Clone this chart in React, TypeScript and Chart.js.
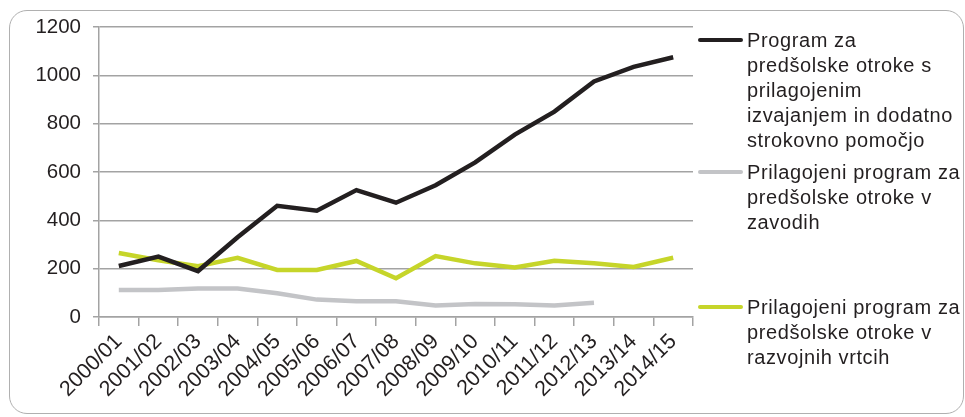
import React, { useEffect, useRef } from "react";
import { Chart, registerables } from "chart.js";

Chart.register(...registerables);

const categories = [
  "2000/01", "2001/02", "2002/03", "2003/04", "2004/05", "2005/06", "2006/07", "2007/08",
  "2008/09", "2009/10", "2010/11", "2011/12", "2012/13", "2013/14", "2014/15",
];
const seriesPrilagojenim = [211, 250, 190, 330, 460, 440, 525, 473, 545, 640, 755, 850, 975, 1035, 1075];
const seriesZavodih = [112, 112, 118, 118, 98, 72, 65, 65, 48, 54, 53, 48, 59, null, null];
const seriesRazvojnih = [265, 235, 210, 245, 195, 195, 232, 160, 252, 222, 205, 233, 222, 207, 245];
const seriesNames = [
  "Program za\npredšolske otroke s\nprilagojenim\nizvajanjem in dodatno\nstrokovno pomočjo",
  "Prilagojeni program za\npredšolske otroke v\nzavodih",
  "Prilagojeni program za\npredšolske otroke v\nrazvojnih vrtcih",
];
const seriesColors = ["#231f20", "#c3c4c7", "#c6d52a"];
const yTicks = [0, 200, 400, 600, 800, 1000, 1200];

const FONT = "'Liberation Sans', Arial, sans-serif";
const GRID = "#a3a3a3";

export default function App() {
  const ref = useRef<HTMLCanvasElement | null>(null);

  useEffect(() => {
    if (!ref.current) return;
    const chart = new Chart(ref.current, {
      type: "line",
      data: {
        labels: categories,
        datasets: [seriesPrilagojenim, seriesZavodih, seriesRazvojnih].map((d, i) => ({
          label: seriesNames[i],
          data: d,
          borderColor: seriesColors[i],
          backgroundColor: seriesColors[i],
          borderWidth: 4.5,
          pointRadius: 0,
          tension: 0,
          fill: false,
          spanGaps: false,
          borderJoinStyle: "miter" as const,
        })),
      },
      options: {
        responsive: false,
        animation: false,
        layout: { padding: { left: 0, top: 27, right: 272, bottom: 0 } },
        plugins: { legend: { display: false }, tooltip: { enabled: false } },
        scales: {
          x: {
            type: "category",
            offset: true,
            grid: {
              display: true,
              drawOnChartArea: false,
              drawTicks: true,
              tickLength: 9,
              color: GRID,
              lineWidth: 1.5,
              offset: true,
            },
            border: { display: true, color: GRID, width: 1.5 },
            ticks: {
              minRotation: 45,
              maxRotation: 45,
              autoSkip: false,
              padding: 3,
              color: "#231f20",
              font: { family: FONT, size: 21.5 },
            },
            afterFit: (s: any) => {
              s.height = 100;
            },
          },
          y: {
            min: 0,
            max: 1200,
            afterBuildTicks: (s: any) => {
              s.ticks = yTicks.map((v) => ({ value: v }));
            },
            grid: { color: GRID, lineWidth: 1.5, tickLength: 6 },
            border: { display: true, color: GRID, width: 1.5 },
            ticks: {
              padding: 12,
              color: "#231f20",
              font: { family: FONT, size: 20.5 },
              callback: (v: any) => String(v),
            },
            afterFit: (s: any) => {
              s.width = 99;
            },
          },
        },
      },
    });
    return () => chart.destroy();
  }, []);

  const legendTops = [40, 172, 307];

  return (
    <div style={{ position: "fixed", left: 0, top: 0, width: 965, height: 417, background: "#fff", overflow: "hidden" }}>
      <div
        style={{
          position: "absolute",
          left: 9,
          top: 10,
          width: 955,
          height: 404,
          boxSizing: "border-box",
          border: "1.5px solid #b0b0b0",
          borderRadius: 18,
        }}
      />
      <canvas ref={ref} width={965} height={417} style={{ position: "absolute", left: 0, top: 0, width: 965, height: 417 }} />
      {seriesNames.map((name, i) => (
        <div key={i} style={{ position: "absolute", left: 698, top: legendTops[i] - 12.5 }}>
          <div
            style={{
              position: "absolute",
              left: 0,
              top: 10.5,
              width: 45,
              height: 4,
              borderRadius: 2,
              background: seriesColors[i],
            }}
          />
          <div
            style={{
              position: "absolute",
              left: 49,
              top: 0,
              whiteSpace: "pre",
              fontFamily: FONT,
              fontSize: 20,
              lineHeight: "25px",
              color: "#231f20",
              letterSpacing: 0.6,
            }}
          >
            {name}
          </div>
        </div>
      ))}
    </div>
  );
}
